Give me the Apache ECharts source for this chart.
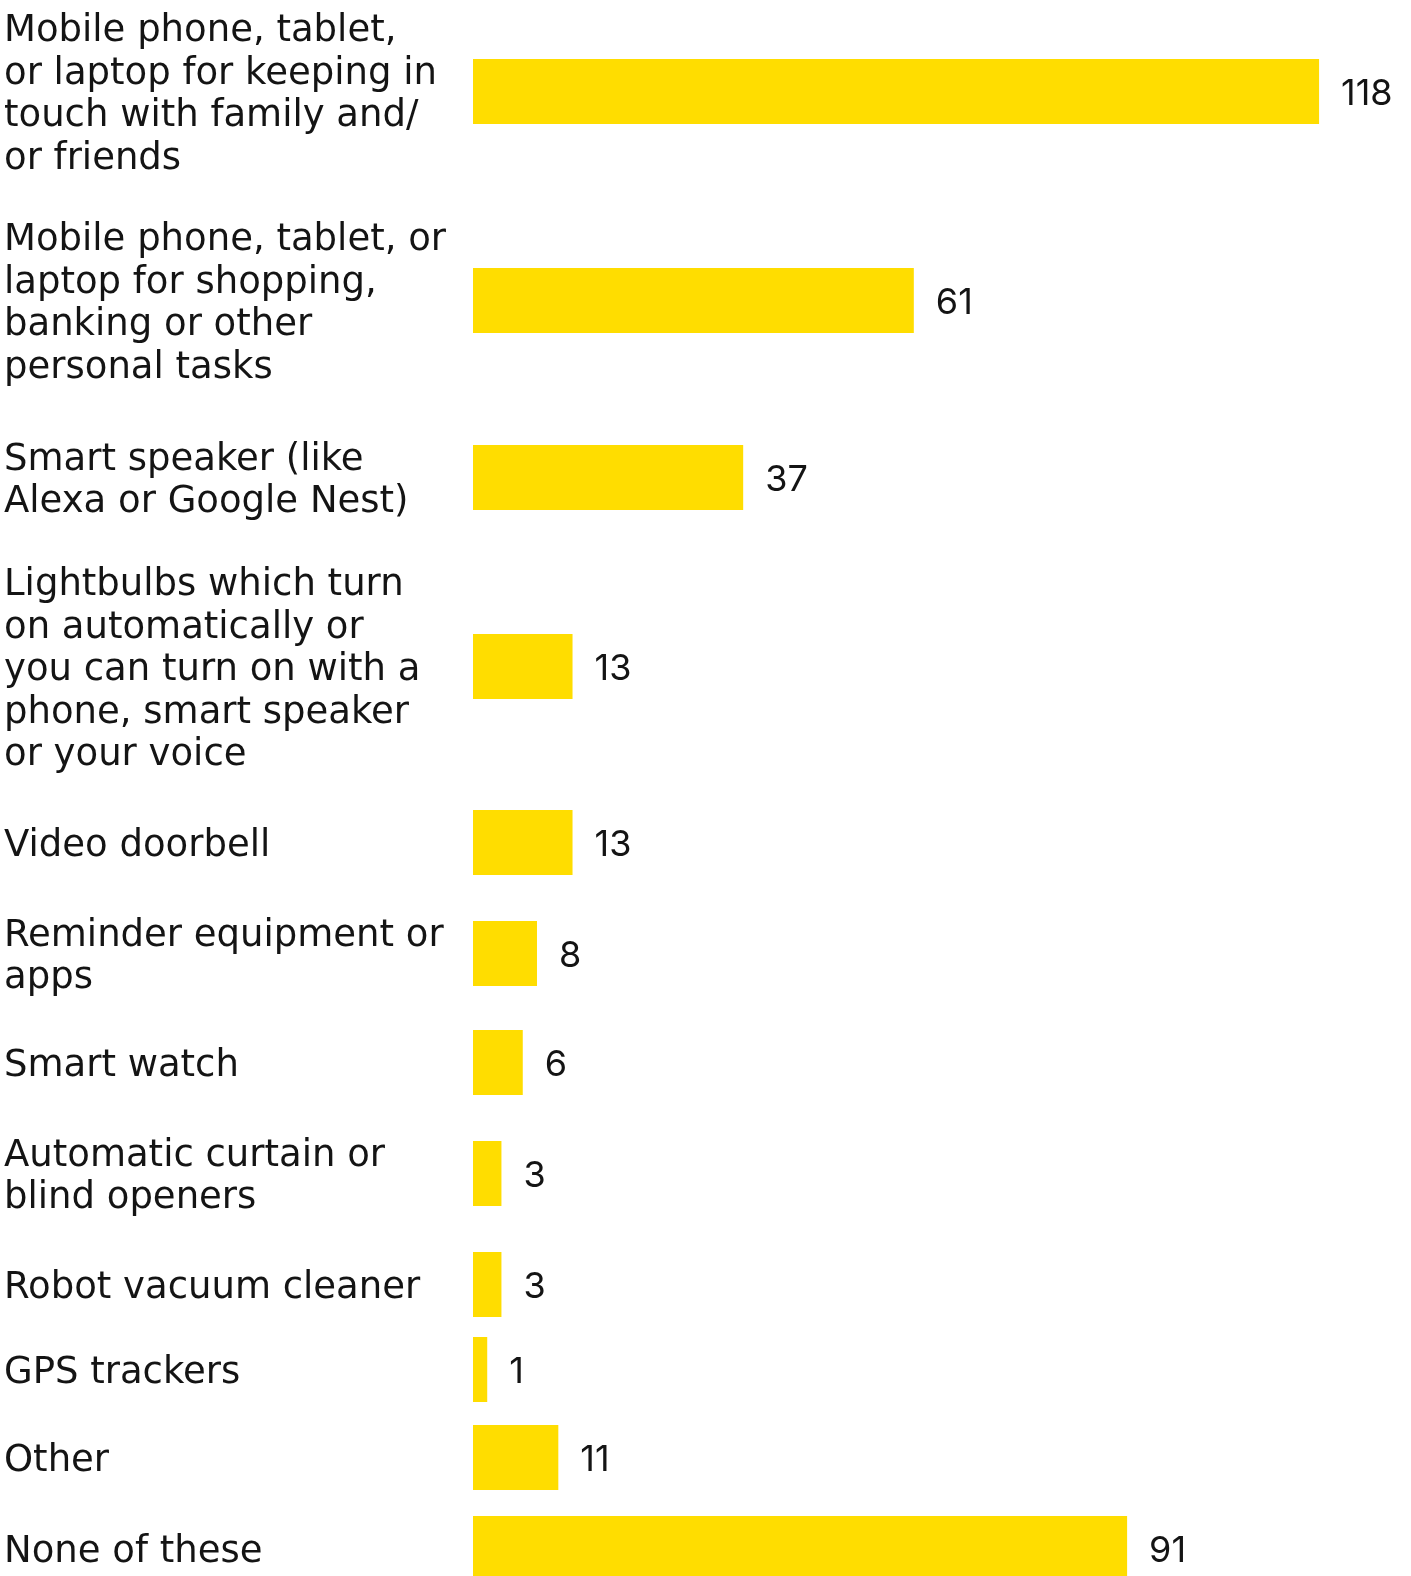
<!DOCTYPE html>
<html>
<head>
<meta charset="utf-8">
<title>Technology used at home</title>
<script src="https://cdn.jsdelivr.net/npm/echarts@6/dist/echarts.min.js"></script>
<style>
  html, body { margin: 0; padding: 0; background: #ffffff; }
  #chart { width: 1411px; height: 1576px; }
</style>
</head>
<body>
<div id="chart"></div>
<script>
// Answer options (line breaks as they are set in the label column)
const categories = [
  'Mobile phone, tablet,\nor laptop for keeping in\ntouch with family and/\nor friends',
  'Mobile phone, tablet, or\nlaptop for shopping,\nbanking or other\npersonal tasks',
  'Smart speaker (like\nAlexa or Google Nest)',
  'Lightbulbs which turn\non automatically or\nyou can turn on with a\nphone, smart speaker\nor your voice',
  'Video doorbell',
  'Reminder equipment or\napps',
  'Smart watch',
  'Automatic curtain or\nblind openers',
  'Robot vacuum cleaner',
  'GPS trackers',
  'Other',
  'None of these'
];

// Number of respondents per option
const values = [118, 61, 37, 13, 13, 8, 6, 3, 3, 1, 11, 91];

// Row layout: centre of the first row and spacing to each following row (px)
const firstRowCentre = 91.5;
const rowPitch = [209, 177, 189, 176, 111, 109, 111, 111, 85, 88, 91];

const rowPos = [firstRowCentre];
rowPitch.forEach(function (p, i) { rowPos.push(rowPos[i] + p); });

const LABEL_FONT = '37px "DejaVu Sans", sans-serif';
const VALUE_FONT = '36px Inter, "DejaVu Sans", sans-serif';
const TEXT_COLOR = '#141414';
const BAR_COLOR = '#FFDD00';
const BAR_THICKNESS = 65;
const TEXT_NUDGE = 4;   // optical vertical offset of text relative to the bar centre
const X_MIN = -1;       // bars start from the axis minimum, leaving a short stub for tiny counts
const X_MAX = 130;

const chart = echarts.init(document.getElementById('chart'), null, { renderer: 'canvas' });

chart.setOption({
  backgroundColor: '#ffffff',
  animation: false,
  grid: { left: 473, right: 6.6, top: 0, bottom: 0 },
  xAxis: { type: 'value', min: X_MIN, max: X_MAX, show: false },
  yAxis: { type: 'value', min: 0, max: 1576, inverse: true, show: false },
  series: [{
    type: 'custom',
    clip: false,
    data: values.map(function (v, i) { return [v, rowPos[i], i]; }),
    renderItem: function (params, api) {
      const v = api.value(0);
      const y = api.value(1);
      const idx = api.value(2);
      const start = api.coord([X_MIN, y]);
      const end = api.coord([v, y]);
      return {
        type: 'group',
        children: [
          {
            type: 'rect',
            shape: {
              x: start[0],
              y: start[1] - BAR_THICKNESS / 2,
              width: end[0] - start[0],
              height: BAR_THICKNESS
            },
            style: { fill: BAR_COLOR }
          },
          {
            type: 'text',
            x: end[0] + 22,
            y: end[1] + TEXT_NUDGE - 1,
            style: {
              text: String(v),
              font: VALUE_FONT,
              fill: TEXT_COLOR,
              align: 'left',
              verticalAlign: 'middle'
            }
          },
          {
            type: 'text',
            x: 4,
            y: start[1] + TEXT_NUDGE,
            style: {
              text: categories[idx],
              font: LABEL_FONT,
              lineHeight: 42.5,
              fill: TEXT_COLOR,
              align: 'left',
              verticalAlign: 'middle'
            }
          }
        ]
      };
    }
  }]
});
</script>
</body>
</html>
